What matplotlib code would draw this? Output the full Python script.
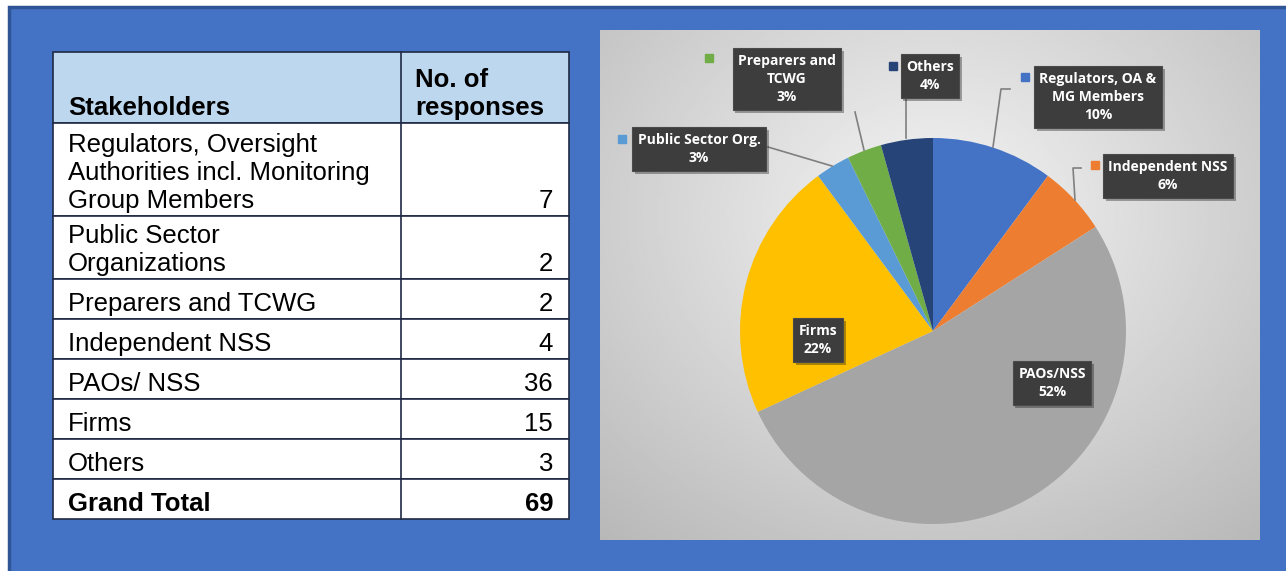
"""
Stakeholder responses: summary table next to a pie chart of the share per group.
"""
import matplotlib.pyplot as plt
import matplotlib.patheffects as pe
from matplotlib.patches import Rectangle
import numpy as np

# ---- data ---------------------------------------------------------------
table_labels = [
    "Regulators, Oversight\nAuthorities incl. Monitoring\nGroup Members",
    "Public Sector\nOrganizations",
    "Preparers and TCWG",
    "Independent NSS",
    "PAOs/ NSS",
    "Firms",
    "Others",
]
table_counts = [7, 2, 2, 4, 36, 15, 3]

pie_labels = ["Regulators, OA &\nMG Members", "Independent NSS", "PAOs/NSS", "Firms",
              "Public Sector Org.", "Preparers and\nTCWG", "Others"]
pie_counts = [7, 4, 36, 15, 2, 2, 3]
pie_colors = ["#4472C4", "#ED7D31", "#A5A5A5", "#FFC000", "#5B9BD5", "#70AD47", "#264478"]

# ---- styling ------------------------------------------------------------
W, H = 1286, 571
BLUE = "#4472C4"
HEADER_BG = "#BDD7EE"
LINE = "#1F2A44"
BOX = "#3D3D3D"

fig = plt.figure(figsize=(W / 100, H / 100), dpi=100)
fig.patch.set_facecolor("white")

# background canvas in pixel coordinates
bg = fig.add_axes([0, 0, 1, 1])
bg.set_xlim(0, W)
bg.set_ylim(H, 0)
bg.axis("off")
bg.add_patch(Rectangle((9, 7), W + 20, H + 20, facecolor=BLUE, edgecolor="#2F5597", linewidth=2.5))

# ---- table --------------------------------------------------------------
tx0, tx1, tdiv = 53, 569, 401
row_heights = [93, 63, 40, 40, 40, 40, 40, 40]
y = 52
header_h = 71
bg.add_patch(Rectangle((tx0, y), tx1 - tx0, header_h, facecolor=HEADER_BG, edgecolor=LINE, lw=1.2))
bg.text(68, y + header_h - 3, "Stakeholders", fontsize=18.5, fontweight="bold",
        family="Liberation Sans", ha="left", va="bottom")
bg.text(415, y + header_h - 3, "No. of\nresponses", fontsize=18.5, fontweight="bold",
        family="Liberation Sans", ha="left", va="bottom", linespacing=1.2)
bg.plot([tdiv, tdiv], [y, y + header_h], color=LINE, lw=1.2)
y += header_h

rows = list(zip(table_labels, table_counts)) + [("Grand Total", sum(table_counts))]
for i, ((label, count), h) in enumerate(zip(rows, row_heights)):
    bold = "bold" if i == len(rows) - 1 else "normal"
    bg.add_patch(Rectangle((tx0, y), tx1 - tx0, h, facecolor="white", edgecolor=LINE, lw=1.2))
    bg.plot([tdiv, tdiv], [y, y + h], color=LINE, lw=1.2)
    bg.text(68, y + h - 3, label, fontsize=18.5, fontweight=bold, family="Liberation Sans",
            ha="left", va="bottom", linespacing=1.22)
    bg.text(553, y + h - 3, str(count), fontsize=18.5, fontweight=bold, family="Liberation Sans",
            ha="right", va="bottom")
    y += h

# ---- pie panel ----------------------------------------------------------
px0, px1, py0, py1 = 600, 1260, 30, 540
cx, cy, r = 933, 331, 193
ax = fig.add_axes([px0 / W, (H - py1) / H, (px1 - px0) / W, (py1 - py0) / H])
xlim = ((px0 - cx) / r, (px1 - cx) / r)
ylim = ((cy - py1) / r, (cy - py0) / r)

# radial grey gradient behind the pie
gx, gy = np.meshgrid(np.linspace(*xlim, 300), np.linspace(*ylim, 240))
dist = np.sqrt((gx - 0.0) ** 2 + ((gy - 0.6) * 1.2) ** 2)
shade = 0.96 - 0.09 * dist
ax.imshow(shade, extent=(*xlim, *ylim), origin="lower", cmap="gray", vmin=0, vmax=1,
          aspect="auto", zorder=0)

wedges, _ = ax.pie(pie_counts, colors=pie_colors, startangle=90, counterclock=False,
                   radius=1, wedgeprops=dict(linewidth=0))
for w in wedges:
    w.set_zorder(2)
ax.set_xlim(*xlim)
ax.set_ylim(*ylim)
ax.set_aspect("equal")
ax.axis("off")


def px(x, yy):
    return (x - cx) / r, (cy - yy) / r


total = sum(pie_counts)
# label centre (px), legend key (px), leader line (px points) per slice
label_pos = [(1098, 97), (1168, 176), (1052, 383), (818, 340), (699, 149), (787, 79), (930, 76)]
key_pos = [(1025, 77), (1095, 165), None, None, (622, 139), (709, 58), (893, 66)]
leaders = [
    [(1010, 89), (1001, 89), (993, 147)],
    [(1081, 168), (1073, 168), (1075, 200)],
    None,
    None,
    [(768, 147), (832, 166)],
    [(855, 112), (864, 150)],
    [(906, 98), (906, 138)],
]

for lab, cnt, col, lp, kp, ld in zip(pie_labels, pie_counts, pie_colors, label_pos, key_pos, leaders):
    txt = f"{lab}\n{cnt / total:.0%}"
    t = ax.text(*px(*lp), txt, color="white", fontsize=10, fontweight="bold", family="Open Sans",
                ha="center", va="center", linespacing=1.4, zorder=5,
                bbox=dict(boxstyle="square,pad=0.4", facecolor=BOX, edgecolor="#4a4a4a", lw=0.8))
    t.get_bbox_patch().set_path_effects([pe.withSimplePatchShadow(offset=(2, -2), alpha=0.35)])
    if kp is not None:
        ax.plot(*px(*kp), marker="s", markersize=6, color=col, zorder=5)
    if ld is not None:
        xs, ys = zip(*[px(*p) for p in ld])
        ax.plot(xs, ys, color="#7F7F7F", lw=1.2, zorder=3)

fig.savefig("out.png", dpi=100)
